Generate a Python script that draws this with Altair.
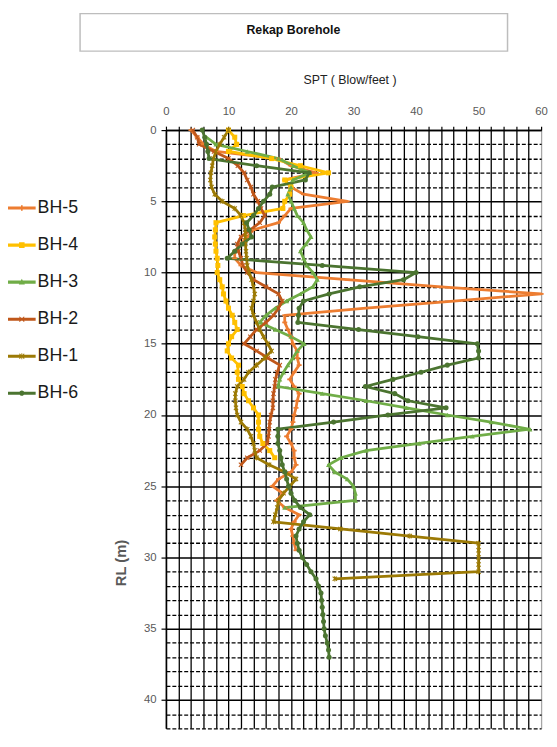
import altair as alt
import pandas as pd

# ---------------- data ----------------
series_names = ["BH-5", "BH-4", "BH-3", "BH-2", "BH-1", "BH-6"]
series_colors = ["#ED7D31", "#FFC000", "#70AD47", "#C0571A", "#9C7A05", "#4B7430"]

bh5_depth = [0, 0.5, 1, 1.5, 2, 2.5, 3, 3.5, 4, 4.5, 5, 5.5, 6, 6.5, 7, 7.5, 8, 8.5, 9, 9.5,
             10, 10.5, 11, 11.5, 12, 12.5, 13, 13.5, 14, 14.5, 15, 15.5, 16, 16.5, 17, 17.5,
             18, 18.5, 19, 19.5, 20, 20.5, 21, 21.5, 22, 22.5, 23, 23.5, 24, 24.5, 25, 25.5,
             26, 26.5, 27, 27.5, 28, 28.5, 29, 29.5]
bh5_spt = [4, 5, 6, 8, 18, 20, 24, 19, 20, 22, 29, 20, 19, 18, 14, 13, 12, 11, 11, 12,
           14.5, 29, 44, 60, 46, 32, 19, 19, 19.5, 20, 20.3, 21, 21, 21.3, 20.5, 19.8,
           20.5, 21.3, 21, 20.8, 20.5, 20.3, 20, 19.3, 20, 20.5, 20.5, 20.8, 20, 18, 17, 18.7,
           17.7, 19, 21.3, 20.5, 20, 20.3, 20.5, 20.8]

bh4_depth = [0, 0.5, 1, 1.5, 2, 2.5, 3, 3.5, 4, 4.5, 5, 5.5, 6, 6.5, 7, 7.5, 8, 8.5, 9, 9.5,
             10, 10.5, 11, 11.5, 12, 12.5, 13, 13.5, 14, 14.5, 15, 15.5, 16, 16.5, 17, 17.5,
             18, 18.5, 19, 19.5, 20, 20.5, 21, 21.5, 22, 22.5, 23]
bh4_spt = [10, 11, 11.3, 10, 16.9, 21.5, 26, 19, 20, 19.8, 19, 18.7, 12.4, 8, 7.9, 7.8, 7.9, 8, 8.2, 8.3,
           8.2, 8.6, 9, 9.2, 9.6, 10, 10.6, 11, 11.4, 10.5, 10, 9.8, 10.5, 11.6, 11.4, 11.6,
           12.2, 12.5, 13.2, 14, 14.8, 14.8, 14.8, 15, 15.5, 16.6, 17.4]

bh3_depth = [0.5, 1, 1.5, 2, 2.5, 3, 3.5, 4, 4.5, 5, 5.5, 6, 6.5, 7, 7.5, 8, 8.5, 9, 9.5,
             10, 10.5, 11, 11.5, 12, 12.5, 13, 13.5, 14, 14.5, 15, 15.5, 16, 16.5, 17, 17.5,
             18, 18.5, 19, 19.5, 20, 20.5, 21, 21.5, 22, 22.5, 23, 23.5, 24, 24.5, 25, 25.5,
             26, 26.5]
bh3_spt = [6.5, 8, 13, 18, 20.3, 23, 20.3, 20, 19.5, 20, 20.5, 21, 22, 22.5, 23.2, 22.4, 21.5, 22, 22.5,
           23.5, 24.2, 23.5, 21.5, 19.3, 17.5, 16, 15, 17.5, 20, 22.1, 21, 20.3, 19.5, 18.8, 18.2,
           17.9, 25, 32, 38.5, 45, 52, 58.2, 49, 40.5, 32, 28, 26, 27, 29, 30, 30.3,
           30.3, 19]

bh2_depth = [0, 0.5, 1, 1.5, 2, 2.5, 3, 3.5, 4, 4.5, 5, 5.5, 6, 6.5, 7, 7.5, 8, 8.5, 9, 9.5,
             10, 10.5, 11, 11.5, 12, 12.5, 13, 13.5, 14, 14.5, 15, 15.5, 16, 16.5, 17, 17.5,
             18, 18.5, 19, 19.5, 20, 20.5, 21, 21.5, 22, 22.5, 23, 23.5]
bh2_spt = [4.3, 5, 5.3, 7.7, 10, 11.5, 12.5, 13, 13.6, 14, 14.7, 15.2, 15.8, 15, 13.5, 12, 11.4, 11.6, 12, 12.3,
           13, 14, 16, 18, 18.6, 18, 17.2, 16, 14.5, 13.5, 12.5, 14.5, 16.3, 18.2, 17.8, 17.5,
           17.4, 17.2, 17.1, 17.1, 16.8, 16.6, 16.5, 16.4, 16.2, 15, 13, 12]

bh1_depth = [0, 0.5, 1, 1.5, 2, 2.5, 3, 3.5, 4, 4.5, 5, 5.5, 6, 6.5, 7, 7.5, 8, 8.5, 9, 9.5,
             10, 10.5, 11, 11.5, 12, 12.5, 13, 13.5, 14, 14.5, 15, 15.5, 16, 16.5, 17, 17.5,
             18, 18.5, 19, 19.5, 20, 20.5, 21, 21.5, 22, 22.5, 23, 23.5, 24, 24.5, 25, 25.5,
             26, 26.5, 27, 27.5, 28, 28.5, 29, 29.5, 30, 30.5, 31, 31.5]
bh1_spt = [10, 9.3, 8.6, 8, 7.6, 7.4, 7.2, 7.1, 7.3, 7.8, 9, 11, 12, 12.5, 12.7, 12.7, 12.7, 12.8, 12.9, 13,
           13.3, 13.7, 14, 14.2, 14, 13.7, 14, 14.5, 15, 15.6, 16.3, 16.9, 15.8, 14.5, 13.2, 12.5,
           11.4, 11.1, 11.1, 11.2, 11.4, 12, 13, 13.6, 14, 14.2, 14.5, 16.5, 19, 20.8, 19.8, 18.8,
           18, 17.8, 17.5, 17.2, 27.9, 39, 50, 50, 50, 50, 50, 27]

bh6_depth = [0, 0.5, 1, 1.5, 2, 2.5, 3, 3.5, 4, 4.5, 5, 5.5, 6, 6.5, 7, 7.5, 8, 8.5, 9, 9.5,
             10, 10.5, 11, 11.5, 12, 12.5, 13, 13.5, 14, 14.5, 15, 15.5, 16, 16.5, 17, 17.5,
             18, 18.5, 19, 19.5, 20, 20.5, 21, 21.5, 22, 22.5, 23, 23.5, 24, 24.5, 25, 25.5,
             26, 26.5, 27, 27.5, 28, 28.5, 29, 29.5, 30, 30.5, 31, 31.5, 32, 32.5, 33, 33.5,
             34, 34.5, 35, 35.5, 36, 36.5, 37]
bh6_spt = [5.8, 6.2, 6.5, 6.7, 6.9, 14.5, 22.9, 22.3, 17, 16.6, 15.6, 14.8, 14, 12.9, 13.3, 13.7, 12.2, 11, 9.8, 25,
           40, 38, 31, 26.1, 22, 21.3, 21.2, 21.1, 30.8, 40.3, 49.8, 50, 50, 45, 40.8, 36.3,
           31.9, 36.6, 38.7, 44.8, 35.5, 26.8, 17.9, 17.9, 17.9, 18.2, 18.4, 18.6, 19, 19.3, 19.6, 20,
           20.6, 21.5, 23, 22, 21.3, 20.8, 21, 21.3, 21.8, 22.5, 23.2, 24, 24.4, 24.8, 24.9, 25,
           25.1, 25.2, 25.3, 25.5, 25.8, 26, 26.1]

x_ticks = [0, 2, 4, 6, 8, 10, 12, 14, 16, 18, 20, 22, 24, 26, 28, 30, 32, 34, 36, 38, 40,
           42, 44, 46, 48, 50, 52, 54, 56, 58, 60]
y_ticks = [0, 1, 2, 3, 4, 5, 6, 7, 8, 9, 10, 11, 12, 13, 14, 15, 16, 17, 18, 19, 20,
           21, 22, 23, 24, 25, 26, 27, 28, 29, 30, 31, 32, 33, 34, 35, 36, 37, 38, 39, 40, 41, 42]

chart_title = "Rekap Borehole"
x_title = "SPT ( Blow/feet )"
y_title = "RL (m)"

# marker shapes (unit box -1..1)
X_PATH = ("M-1,-0.7L-0.7,-1L0,-0.3L0.7,-1L1,-0.7L0.3,0L1,0.7L0.7,1L0,0.3L-0.7,1L-1,0.7L-0.3,0Z")
marker_paths = [
    "M-1,-0.35H1V0.35H-1Z",                       # dash
    "square",
    "triangle-up",
    X_PATH,                                        # x
    X_PATH + "M-0.18,-1.1H0.18V1.1H-0.18Z",        # star
    "circle",
]
LINE = "M-1,-0.11H1V0.11H-1Z"
legend_paths = [
    LINE + "M-0.06,-0.2H0.06V0.2H-0.06Z",
    LINE + "M-0.2,-0.2H0.2V0.2H-0.2Z",
    LINE + "M0,-0.24L0.22,0.17H-0.22Z",
    LINE + "M-0.2,-0.15L-0.15,-0.2L0.2,0.15L0.15,0.2ZM0.15,-0.2L0.2,-0.15L-0.15,0.2L-0.2,0.15Z",
    LINE + "M-0.2,-0.15L-0.15,-0.2L0.2,0.15L0.15,0.2ZM0.15,-0.2L0.2,-0.15L-0.15,0.2L-0.2,0.15ZM-0.03,-0.22H0.03V0.22H-0.03Z",
    LINE + "M-0.19,0A0.19,0.19,0,1,1,0.19,0A0.19,0.19,0,1,1,-0.19,0Z",
]

rows = []
for name, dd, vv in [("BH-5", bh5_depth, bh5_spt), ("BH-4", bh4_depth, bh4_spt),
                     ("BH-3", bh3_depth, bh3_spt), ("BH-2", bh2_depth, bh2_spt),
                     ("BH-1", bh1_depth, bh1_spt), ("BH-6", bh6_depth, bh6_spt)]:
    for d, v in zip(dd, vv):
        rows.append({"series": name, "depth": d, "spt": v})
df = pd.DataFrame(rows)
title_df = pd.DataFrame({"t": [chart_title]})

FONT = "Liberation Sans, Arial, sans-serif"

x_enc = alt.X(
    "spt:Q",
    scale=alt.Scale(domain=[0, 60], nice=False, zero=False),
    axis=alt.Axis(
        orient="top", values=x_ticks, tickCount=200, format="d", title=x_title,
        labelExpr="datum.value % 10 === 0 ? datum.label : ''",
        labelOverlap=False, labelBound=False, labelFlush=False,
        labelFont=FONT, labelFontSize=11.5, labelColor="#595959", labelPadding=10,
        tickSize=4, tickColor="#000", tickWidth=1.2,
        domainColor="#000", domainWidth=1.5,
        grid=True,
        gridColor={"condition": {"test": "datum.value === 60", "value": "#a6a6a6"}, "value": "#000000"},
        gridWidth=1.3,
        titleFont=FONT, titleFontSize=12.5, titleFontWeight="normal", titleColor="#222",
        titleX=186, titleY=-51, titleAlign="center", titleBaseline="middle", titleAngle=0,
    ),
)
y_enc = alt.Y(
    "depth:Q",
    scale=alt.Scale(domain=[0, 42], nice=False, zero=False, reverse=True),
    axis=alt.Axis(
        orient="left", values=y_ticks, tickCount=200, format="d", title=y_title,
        labelExpr="datum.value % 5 === 0 ? datum.label : ''",
        labelOverlap=False, labelBound=False, labelFlush=False,
        labelFont=FONT, labelFontSize=11.5, labelColor="#595959", labelPadding=5,
        tickSize=5, tickColor="#000", tickWidth=1.2,
        tickOpacity={"condition": {"test": "datum.value % 5 === 0", "value": 1}, "value": 0},
        domainColor="#000", domainWidth=1.5,
        grid=True, gridColor="#000000",
        gridDash={"condition": {"test": "datum.value % 5 === 0", "value": []}, "value": [4, 2]},
        gridWidth={"condition": {"test": "datum.value % 5 === 0", "value": 1.5}, "value": 1.3},
        titleFont=FONT, titleFontSize=15, titleFontWeight="bold", titleColor="#595959",
        titleAngle=270, titleX=-46, titleY=438, titleAlign="center", titleBaseline="middle",
    ),
)

cscale = alt.Scale(domain=series_names, range=series_colors)
leg = alt.Legend(
    orient="none", legendX=-160, legendY=65, title=None,
    labelFont=FONT, labelFontSize=18, labelColor="#1a1a1a", labelOffset=2,
    symbolSize=784, symbolStrokeWidth=0, symbolOpacity=1, rowPadding=14.5, padding=0,
)

base = alt.Chart(df)
lines = base.mark_line(strokeWidth=2.8, strokeJoin="round").encode(
    x=x_enc, y=y_enc,
    color=alt.Color("series:N", scale=cscale, legend=None),
    order=alt.Order("depth:Q"),
)
points = base.mark_point(filled=True, size=26, opacity=1, strokeWidth=0).encode(
    x=alt.X("spt:Q"), y=alt.Y("depth:Q"),
    color=alt.Color("series:N", scale=cscale, legend=None),
    shape=alt.Shape("series:N", scale=alt.Scale(domain=series_names, range=marker_paths), legend=None),
)
legend_layer = base.transform_filter("datum.depth > 1000").mark_point(filled=True, opacity=1).encode(
    x=alt.X("spt:Q"), y=alt.Y("depth:Q"),
    color=alt.Color("series:N", scale=cscale, legend=leg),
    shape=alt.Shape("series:N", scale=alt.Scale(domain=series_names, range=legend_paths), legend=leg),
)

box = alt.Chart(title_df).mark_rect(fill="white", stroke="#bdbdbd", strokeWidth=1.5).encode(
    x=alt.value(-87), x2=alt.value(346), y=alt.value(-118), y2=alt.value(-80)
)
title_text = alt.Chart(title_df).mark_text(
    font=FONT, fontSize=12.5, fontWeight="bold", color="#111", align="center", baseline="middle"
).encode(x=alt.value(129), y=alt.value(-101), text="t:N")

chart = alt.layer(box, title_text, lines, points, legend_layer).resolve_scale(
    color="independent", shape="independent"
).properties(
    width=380, height=606,
    autosize=alt.AutoSizeParams(type="none"),
    padding={"left": 160, "top": 119, "right": 8, "bottom": 0},
).configure_view(stroke=None)

chart.save("out.html", embed_options={"renderer": "svg", "actions": False})
